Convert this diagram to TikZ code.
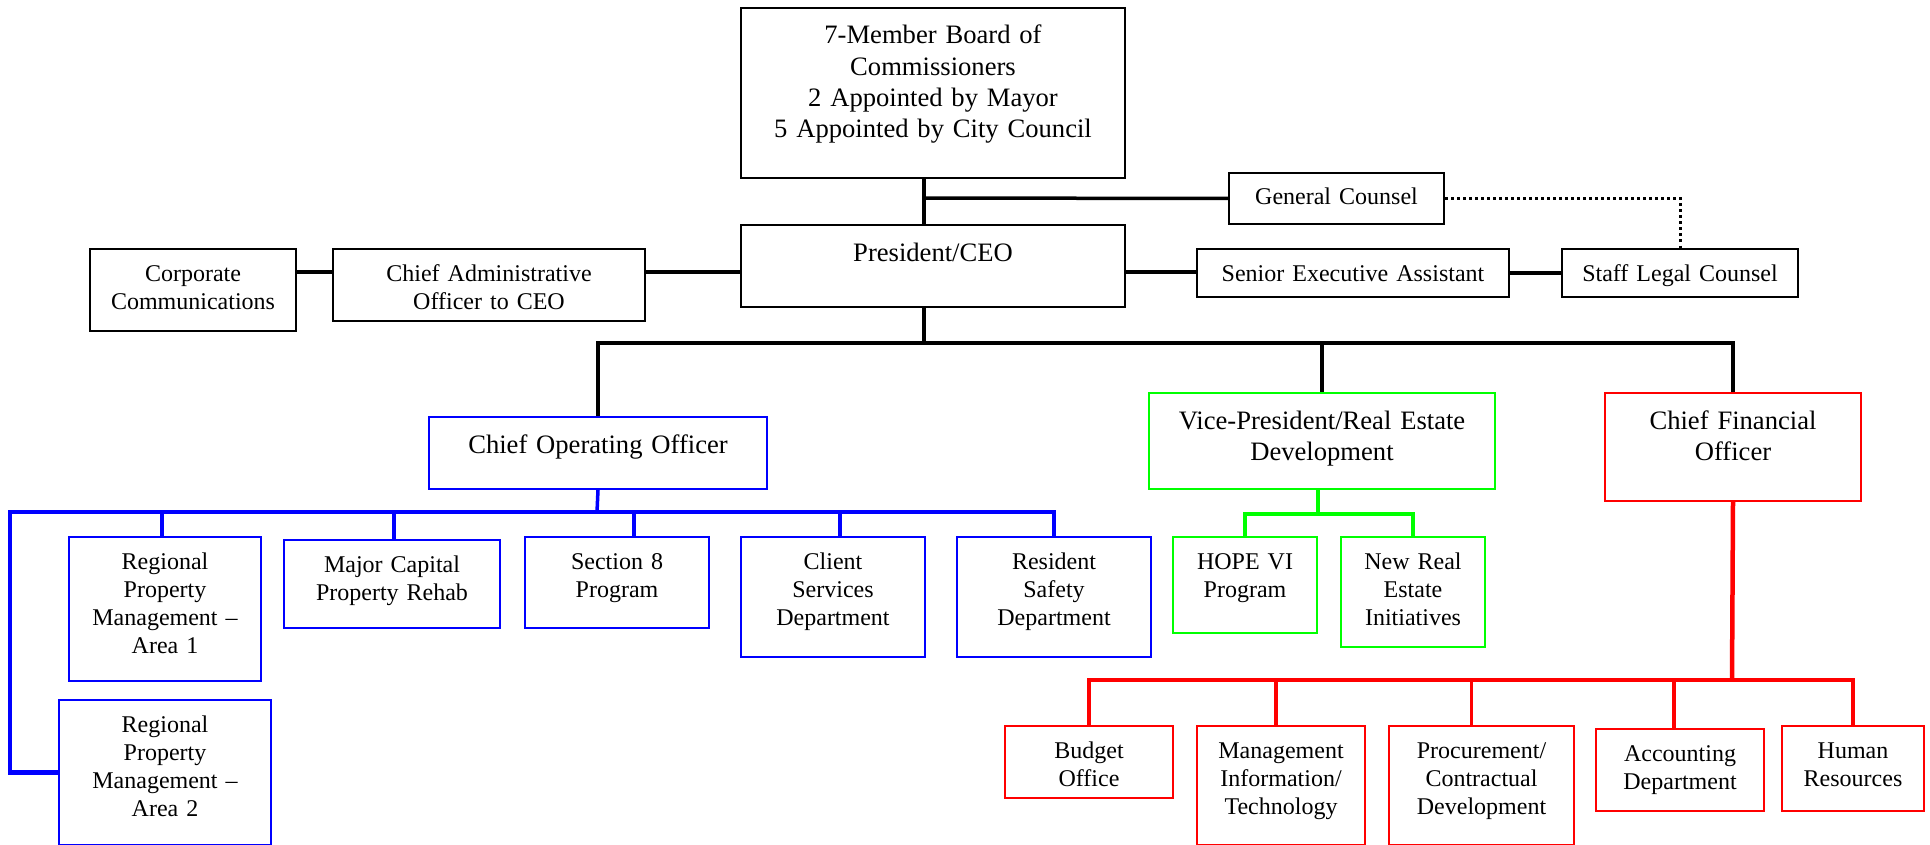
\documentclass[tikz,border=0pt]{standalone}
\usepackage{fontspec}
\setmainfont{Liberation Serif}

\tikzset{
  unit/.style={draw, line width=2pt, inner sep=0pt, align=center, anchor=north west,
    font=\fontsize{24}{28.3}\selectfont, text height=32pt},
  headunit/.style={unit, font=\fontsize{26.6}{31.3}\selectfont, text height=36pt},
  link/.style={line width=3.5pt},
  bus/.style={line width=4.5pt},
  dotlink/.style={line width=3pt, dash pattern=on 2.5pt off 3.5pt},
}

\begin{document}
\begin{tikzpicture}[x=1pt, y=-1pt]
    \useasboundingbox (0,0) rectangle (1930,845);

    % top of the chart
    \node[headunit, text width=384pt, text depth=134pt] (board) at (740,7) {7-Member Board of\\Commissioners\\2 Appointed by Mayor\\5 Appointed by City Council};
    \node[unit, text width=215pt, text depth=19pt] (gc) at (1228,172) {General Counsel};
    \node[headunit, text width=384pt, text depth=46pt] (pres) at (740,224) {President/CEO};
    \node[unit, text width=206pt, text depth=50pt] (corp) at (89,248) {Corporate\\Communications};
    \node[unit, text width=312pt, text depth=40pt] (cao) at (332,248) {Chief Administrative\\Officer to CEO};
    \node[unit, text width=312pt, text depth=16pt] (sea) at (1196,248) {Senior Executive Assistant};
    \node[unit, text width=236pt, text depth=16pt] (slc) at (1561,248) {Staff Legal Counsel};

    % officers
    \node[headunit, blue, text=black, text width=338pt, text depth=36pt] (coo) at (428,416) {Chief Operating Officer};
    \node[headunit, green, text=black, text width=346pt, text depth=60pt] (vp) at (1148,392) {Vice-President/Real Estate\\Development};
    \node[headunit, red, text=black, text width=256pt, text depth=72pt] (cfo) at (1604,392) {Chief Financial\\Officer};

    % operations
    \node[unit, blue, text=black, text width=192pt, text depth=112pt] (rpm1) at (68,536) {Regional\\Property\\Management --\\Area 1};
    \node[unit, blue, text=black, text width=216pt, text depth=56pt] (mcpr) at (283,539) {Major Capital\\Property Rehab};
    \node[unit, blue, text=black, text width=184pt, text depth=59pt] (s8) at (524,536) {Section 8\\Program};
    \node[unit, blue, text=black, text width=184pt, text depth=88pt] (cs) at (740,536) {Client\\Services\\Department};
    \node[unit, blue, text=black, text width=194pt, text depth=88pt] (rs) at (956,536) {Resident\\Safety\\Department};
    \node[unit, blue, text=black, text width=212pt, text depth=113pt] (rpm2) at (58,699) {Regional\\Property\\Management --\\Area 2};

    % development
    \node[unit, green, text=black, text width=144pt, text depth=64pt] (hope) at (1172,536) {HOPE VI\\Program};
    \node[unit, green, text=black, text width=144pt, text depth=78pt] (nre) at (1340,536) {New Real\\Estate\\Initiatives};

    % finance
    \node[unit, red, text=black, text width=168pt, text depth=40pt] (budget) at (1004,725) {Budget\\Office};
    \node[unit, red, text=black, text width=168pt, text depth=87pt] (mit) at (1196,725) {Management\\Information/\\Technology};
    \node[unit, red, text=black, text width=185pt, text depth=87pt] (proc) at (1388,725) {Procurement/\\Contractual\\Development};
    \node[unit, red, text=black, text width=168pt, text depth=50pt] (acct) at (1595,728) {Accounting\\Department};
    \node[unit, red, text=black, text width=142pt, text depth=53pt] (hr) at (1781,725) {Human\\Resources};

    \coordinate (spine) at (924,198);
    \coordinate (side) at (924,272);
    \coordinate (tier) at (924,343);
    \coordinate (opsbus) at (597,512);
    \coordinate (opsleft) at (10,512);
    \coordinate (devbus) at (1318,514);
    \coordinate (finbus) at (1732,680);

    \draw[link] (board.south -| spine) -- (pres.north -| spine);
    \draw[link] (spine) -- (gc.west);
    \draw[dotlink] (gc.east) -| (slc.north);
    \draw[link] (corp.east |- side) -- (cao.west |- side);
    \draw[link] (cao.east |- side) -- (pres.west |- side);
    \draw[link] (pres.east |- side) -- (sea.west |- side);
    \draw[link] (sea.east) -- (slc.west);
    \draw[link] (pres.south -| spine) -- (tier);
    \draw[link] (coo.north) |- (tier) -| (cfo.north);
    \draw[link] (vp.north) -- (vp.north |- tier);

    \draw[link, blue] (coo.south) -- (opsbus);
    \draw[bus, blue] (rpm2.west) -| (opsleft) -| (rs.north);
    \foreach \u/\s in {rpm1/-3, mcpr/2, s8/17, cs/7}
        \draw[link, blue] ([xshift=\s pt]\u.north) |- (opsbus);

    \draw[link, green] (vp.south -| devbus) -- (devbus);
    \draw[bus, green] (hope.north) |- (devbus) -| (nre.north);

    \draw[bus, red] (cfo.south) -- (finbus);
    \draw[bus, red] (budget.north) |- (finbus) -| (hr.north);
    \foreach \u/\s in {mit/-5, proc/-10, acct/-6}
        \draw[link, red] ([xshift=\s pt]\u.north) |- (finbus);

\end{tikzpicture}
\end{document}
